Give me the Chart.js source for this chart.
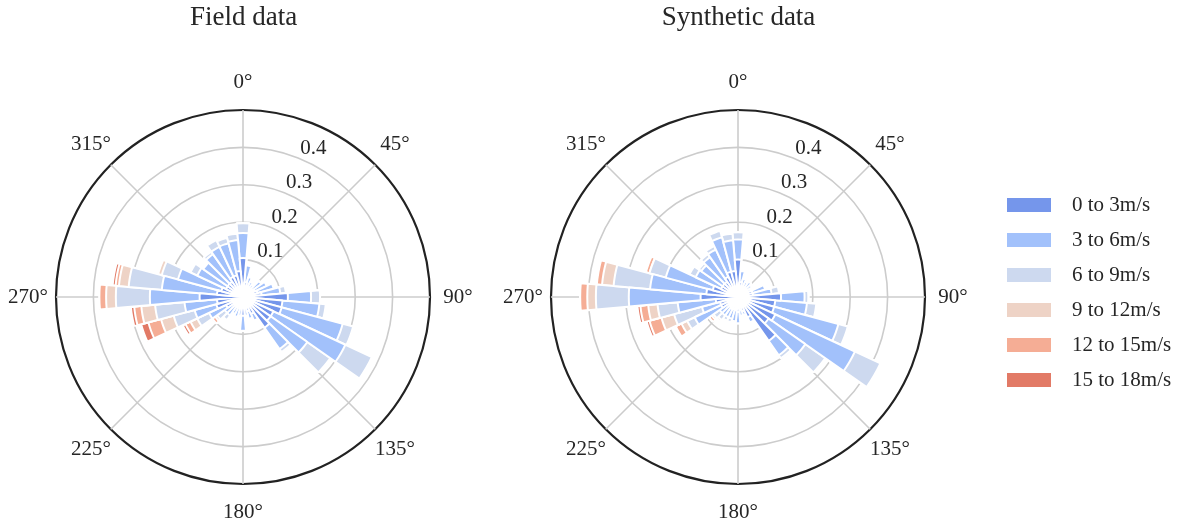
<!DOCTYPE html>
<html>
<head>
<meta charset="utf-8">
<script src="https://cdn.jsdelivr.net/npm/chart.js@4.4.1/dist/chart.umd.min.js"></script>
<style>
    html, body { margin: 0; padding: 0; background: #fff; }
    #marco { position: relative; width: 1199px; height: 523px; }
    canvas { position: absolute; top: 0; }
    #graficoCampo { left: 0; }
    #graficoSint { left: 490px; }
</style>
</head>
<body>
<div id="marco">
    <canvas id="graficoCampo" width="490" height="523"></canvas>
    <canvas id="graficoSint" width="709" height="523"></canvas>
</div>
<script>
// sectores de 10 grados centrados en 0, 10, ... 350
const direcciones = [0, 10, 20, 30, 40, 50, 60, 70, 80, 90, 100, 110, 120, 130, 140, 150, 160, 170,
    180, 190, 200, 210, 220, 230, 240, 250, 260, 270, 280, 290, 300, 310, 320, 330, 340, 350];

const clases = ['0 to 3m/s', '3 to 6m/s', '6 to 9m/s', '9 to 12m/s', '12 to 15m/s', '15 to 18m/s'];
const colores = ['#7596eb', '#a2c1fb', '#cdd9ef', '#eed3c6', '#f5ad95', '#e27a66'];

// frecuencia por clase de velocidad y sector - datos de campo
const campo03 = [0.104, 0.040, 0.030, 0.025, 0.025, 0.030, 0.035, 0.040, 0.050, 0.120, 0.106, 0.107,
    0.090, 0.090, 0.100, 0.050, 0.040, 0.030, 0.050, 0.030, 0.030, 0.030, 0.030, 0.030,
    0.050, 0.074, 0.070, 0.116, 0.070, 0.060, 0.050, 0.050, 0.050, 0.060, 0.060, 0.070];
const campo36 = [0.067, 0.045, 0.025, 0.020, 0.015, 0.030, 0.035, 0.045, 0.050, 0.062, 0.099, 0.169,
    0.212, 0.120, 0.070, 0.020, 0.020, 0.020, 0.040, 0.020, 0.025, 0.020, 0.030, 0.030,
    0.050, 0.060, 0.087, 0.133, 0.148, 0.120, 0.085, 0.080, 0.090, 0.088, 0.089, 0.083];
const campo69 = [0.026, 0, 0, 0, 0, 0, 0, 0, 0.015, 0.024, 0.017, 0.029,
    0.078, 0.075, 0.010, 0, 0, 0, 0, 0, 0, 0, 0.015, 0.025,
    0.035, 0.058, 0.079, 0.091, 0.089, 0.045, 0.020, 0, 0.008, 0.020, 0.015, 0.017];
const campo912 = [0, 0, 0, 0, 0, 0, 0, 0, 0, 0, 0, 0,
    0, 0, 0, 0, 0, 0, 0, 0, 0, 0, 0, 0.006,
    0.020, 0.035, 0.037, 0.026, 0.026, 0.010, 0, 0, 0, 0, 0, 0];
const campo1215 = [0, 0, 0, 0, 0, 0, 0, 0, 0, 0, 0, 0,
    0, 0, 0, 0, 0, 0, 0, 0, 0, 0, 0, 0.009,
    0.015, 0.035, 0.019, 0.018, 0.009, 0, 0, 0, 0, 0, 0, 0];
const campo1518 = [0, 0, 0, 0, 0, 0, 0, 0, 0, 0, 0, 0,
    0, 0, 0, 0, 0, 0, 0, 0, 0, 0, 0, 0,
    0.008, 0.020, 0.009, 0, 0.008, 0, 0, 0, 0, 0, 0, 0];

// datos sinteticos
const sint03 = [0.100, 0.040, 0.030, 0.025, 0.030, 0.025, 0.025, 0.040, 0.040, 0.115, 0.100, 0.100,
    0.110, 0.100, 0.143, 0.060, 0.040, 0.035, 0.040, 0.035, 0.035, 0.035, 0.030, 0.030,
    0.050, 0.050, 0.060, 0.100, 0.085, 0.070, 0.050, 0.050, 0.050, 0.060, 0.070, 0.070];
const sint36 = [0.054, 0.030, 0.020, 0.020, 0.020, 0.020, 0.015, 0.035, 0.050, 0.063, 0.085, 0.178,
    0.235, 0.120, 0.047, 0.015, 0.010, 0.015, 0.030, 0.030, 0.025, 0.025, 0.030, 0.030,
    0.078, 0.050, 0.102, 0.192, 0.151, 0.130, 0.075, 0.070, 0.080, 0.080, 0.095, 0.082];
const sint69 = [0.019, 0, 0, 0, 0, 0, 0, 0, 0.020, 0.010, 0.025, 0.026,
    0.075, 0.065, 0.010, 0, 0, 0, 0, 0, 0.010, 0.010, 0.015, 0.020,
    0.022, 0.077, 0.054, 0.088, 0.098, 0.045, 0.018, 0.008, 0.010, 0.010, 0.018, 0.018];
const sint912 = [0, 0, 0, 0, 0, 0, 0, 0, 0, 0, 0, 0,
    0, 0, 0, 0, 0, 0, 0, 0, 0, 0, 0.005, 0.006,
    0.017, 0.035, 0.025, 0.023, 0.031, 0, 0, 0, 0, 0, 0, 0];
const sint1215 = [0, 0, 0, 0, 0, 0, 0, 0, 0, 0, 0, 0,
    0, 0, 0, 0, 0, 0, 0, 0, 0, 0, 0, 0.008,
    0.017, 0.033, 0.021, 0.019, 0.014, 0.010, 0, 0, 0, 0, 0, 0];
const sint1518 = [0, 0, 0, 0, 0, 0, 0, 0, 0, 0, 0, 0,
    0, 0, 0, 0, 0, 0, 0, 0, 0, 0, 0, 0,
    0, 0.008, 0.008, 0, 0, 0, 0, 0, 0, 0, 0, 0];

const angulosEje = [0, 45, 90, 135, 180, 225, 270, 315];
const ticksRadio = [0.1, 0.2, 0.3, 0.4];

const fuente = "'Liberation Serif', 'Times New Roman', serif";
const tinta = '#262626';
const gris = '#cccccc';

Chart.defaults.font.family = fuente;
Chart.defaults.color = tinta;

// apila las clases: cada dataset llega hasta la suma acumulada,
// el primero (mas chico) queda dibujado arriba de los demas
function acumular(series) {
    const suma = new Array(direcciones.length).fill(0);
    return series.map((serie, i) => {
        serie.forEach((v, k) => { suma[k] += v; });
        return {
            label: clases[i],
            data: suma.map(v => +v.toFixed(4)),
            backgroundColor: colores[i],
            borderColor: '#ffffff',
            borderWidth: 2,
        };
    });
}

// lineas a 45 grados, etiquetas de angulo y de radio
const ejesPolares = {
    id: 'ejesPolares',
    beforeDatasetsDraw(chart) {
        const r = chart.scales.r;
        const ctx = chart.ctx;
        ctx.save();
        ctx.strokeStyle = gris;
        ctx.lineWidth = 1.6;
        angulosEje.forEach(a => {
            const t = a * Math.PI / 180;
            ctx.beginPath();
            ctx.moveTo(r.xCenter, r.yCenter);
            ctx.lineTo(r.xCenter + r.drawingArea * Math.sin(t), r.yCenter - r.drawingArea * Math.cos(t));
            ctx.stroke();
        });
        ctx.restore();
    },
    afterDatasetsDraw(chart) {
        const r = chart.scales.r;
        const ctx = chart.ctx;
        ctx.save();
        ctx.fillStyle = tinta;
        ctx.font = '21px ' + fuente;
        ctx.textAlign = 'center';
        ctx.textBaseline = 'middle';
        const rEtiq = r.drawingArea + 28;
        angulosEje.forEach(a => {
            const t = a * Math.PI / 180;
            ctx.fillText(a + '°', r.xCenter + rEtiq * Math.sin(t), r.yCenter - rEtiq * Math.cos(t));
        });

        // valores del radio sobre la linea de 22.5°
        ctx.textAlign = 'left';
        ctx.textBaseline = 'bottom';
        const t = 22.5 * Math.PI / 180;
        ticksRadio.forEach(v => {
            const d = r.getDistanceFromCenterForValue(v);
            ctx.fillText(v.toFixed(1), r.xCenter + d * Math.sin(t), r.yCenter - d * Math.cos(t));
        });
        ctx.restore();
    }
};

// muestras de color para la leyenda
const muestras = colores.map(c => {
    const cv = document.createElement('canvas');
    cv.width = 44;
    cv.height = 14;
    const g = cv.getContext('2d');
    g.fillStyle = c;
    g.fillRect(0, 0, 44, 14);
    return cv;
});

// ancho que Chart.js le da a la leyenda (padding + muestra + texto + 10)
function anchoLeyenda() {
    const g = document.createElement('canvas').getContext('2d');
    g.font = '21px ' + fuente;
    const texto = Math.max(...clases.map(c => g.measureText(c).width));
    return 14 + 65 + 10.5 + texto + 10;
}
const anchoLey = anchoLeyenda();

function opcionesRosa(titulo, padding, leyenda) {
    return {
        responsive: false,
        animation: false,
        layout: { padding: padding },
        scales: {
            r: {
                min: 0,
                max: 0.5,
                startAngle: -5,
                ticks: { display: false, stepSize: 0.1 },
                grid: {
                    circular: true,
                    color: c => (c.tick && c.tick.value > 0.45 ? '#222222' : gris),
                    lineWidth: c => (c.tick && c.tick.value > 0.45 ? 2.2 : 1.6),
                },
                angleLines: { display: false },
                pointLabels: { display: false },
            }
        },
        plugins: {
            title: {
                display: true,
                text: titulo,
                fullSize: false,
                color: tinta,
                font: { size: 27, weight: 'normal' },
                padding: { top: 1.4, bottom: 76.2 },
            },
            legend: leyenda,
            tooltip: { enabled: false },
        }
    };
}

new Chart(document.getElementById('graficoCampo'), {
    type: 'polarArea',
    data: {
        labels: direcciones.map(d => d + '°'),
        datasets: acumular([campo03, campo36, campo69, campo912, campo1215, campo1518]),
    },
    options: opcionesRosa('Field data', { left: 56, right: 59, top: 0, bottom: 38 }, { display: false }),
    plugins: [ejesPolares],
});

new Chart(document.getElementById('graficoSint'), {
    type: 'polarArea',
    data: {
        labels: direcciones.map(d => d + '°'),
        datasets: acumular([sint03, sint36, sint69, sint912, sint1215, sint1518]),
    },
    options: opcionesRosa('Synthetic data', { left: 4.5, right: 709 - 492.5 - anchoLey, top: 0, bottom: 38 }, {
        display: true,
        position: 'right',
        fullSize: false,
        align: 'start',
        maxWidth: 400,
        // titulo vacio: solo deja espacio arriba de los items
        title: { display: true, text: '', font: { size: 10 }, padding: { top: 58.5, bottom: 0 } },
        labels: {
            usePointStyle: true,
            pointStyleWidth: 65,
            boxHeight: 14,
            padding: 14,
            color: tinta,
            font: { size: 21 },
            generateLabels: chart => chart.data.datasets.map((ds, i) => ({
                text: ds.label,
                pointStyle: muestras[i],
                fillStyle: ds.backgroundColor,
                strokeStyle: ds.backgroundColor,
                lineWidth: 0,
                hidden: false,
                datasetIndex: i,
            })),
        },
    }),
    plugins: [ejesPolares],
});
</script>
</body>
</html>
